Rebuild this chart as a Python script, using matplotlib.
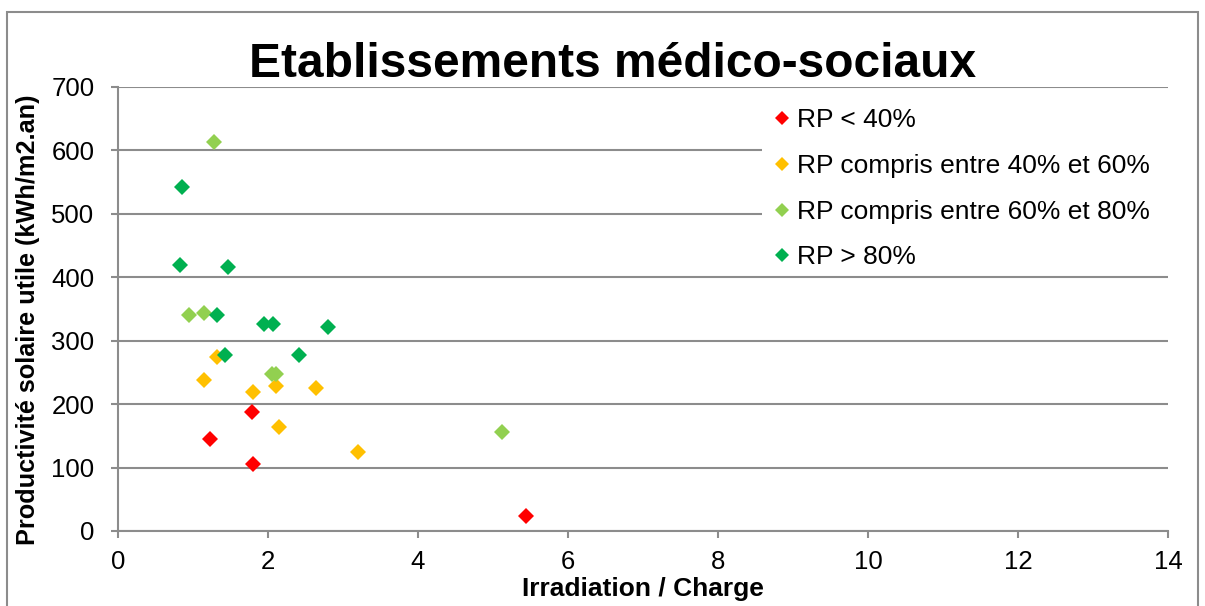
import matplotlib.pyplot as plt
from matplotlib.patches import Rectangle

plt.rcParams['font.family'] = ['Liberation Sans', 'DejaVu Sans']

# RP < 40%
x_red = [1.22, 1.79, 1.80, 5.44]
y_red = [145, 188, 105, 24]
# RP 40-60%
x_orange = [1.32, 1.15, 2.10, 1.80, 2.64, 2.14, 3.20]
y_orange = [275, 238, 229, 219, 226, 164, 124]
# RP 60-80%
x_lgreen = [1.28, 0.94, 1.14, 2.05, 2.11, 5.12]
y_lgreen = [614, 341, 343, 247, 247, 156]
# RP > 80%
x_dgreen = [0.85, 0.83, 1.47, 1.32, 1.94, 2.07, 2.80, 1.42, 2.41]
y_dgreen = [543, 420, 417, 341, 326, 326, 322, 277, 277]

labels = ['RP < 40%', 'RP compris entre 40% et 60%',
          'RP compris entre 60% et 80%', 'RP > 80%']
colors = ['#FF0000', '#FFC000', '#92D050', '#00B050']

W, H = 1205, 606
fig = plt.figure(figsize=(W / 100, H / 100), dpi=100)
ax = fig.add_axes([118 / W, 75 / H, 1050 / W, 444 / H])

series = [(x_red, y_red), (x_orange, y_orange),
          (x_lgreen, y_lgreen), (x_dgreen, y_dgreen)]
for (xs, ys), c, lab in zip(series, colors, labels):
    ax.plot(xs, ys, linestyle='none', marker='D', ms=8, color=c,
            markeredgewidth=0, label=lab, zorder=3)

ax.set_xlim(0, 14)
ax.set_ylim(0, 700)
ax.set_xticks(range(0, 15, 2))
ax.set_yticks(range(0, 701, 100))
ax.grid(axis='y', color='#8c8c8c', linewidth=1.5)
ax.set_axisbelow(True)
for side in ['top', 'right']:
    ax.spines[side].set_visible(False)
for side in ['left', 'bottom']:
    ax.spines[side].set_color('#8c8c8c')
    ax.spines[side].set_linewidth(1.5)
ax.tick_params(axis='both', labelsize=18.5, color='#8c8c8c', width=1.5,
               length=5)
ax.tick_params(axis='x', pad=9)
ax.tick_params(axis='y', pad=12)

ax.set_xlabel('Irradiation / Charge', fontsize=19, fontweight='bold',
              labelpad=2)
ax.set_ylabel('Productivité solaire utile (kWh/m2.an)', fontsize=18.2,
              fontweight='bold')
ax.yaxis.set_label_coords((40 - 118) / 1050, (531 - 320) / 444)
fig.text(0.508, 1 - 77 / H, 'Etablissements médico-sociaux',
         fontsize=34.5, fontweight='bold', ha='center', va='baseline')

# white box behind the legend, hides the gridlines up to the right edge
ax.add_patch(Rectangle((762 / W, 1 - 268 / H), 412 / W, 172 / H,
                       transform=fig.transFigure, facecolor='white',
                       edgecolor='none', zorder=1.5, clip_on=False))

leg = ax.legend(loc='upper left', bbox_to_anchor=(756 / W, 1 - 90 / H),
                bbox_transform=fig.transFigure, frameon=False, fontsize=19,
                handlelength=0.6, handletextpad=0.25, markerscale=0.85,
                labelspacing=0.82, borderpad=0.2)

fig.patches.append(Rectangle((7 / W, -0.1), 1191 / W, 1.1 - 12 / H,
                             transform=fig.transFigure, fill=False,
                             edgecolor='#8c8c8c', linewidth=1.5))

fig.savefig('out.png', dpi=100)
